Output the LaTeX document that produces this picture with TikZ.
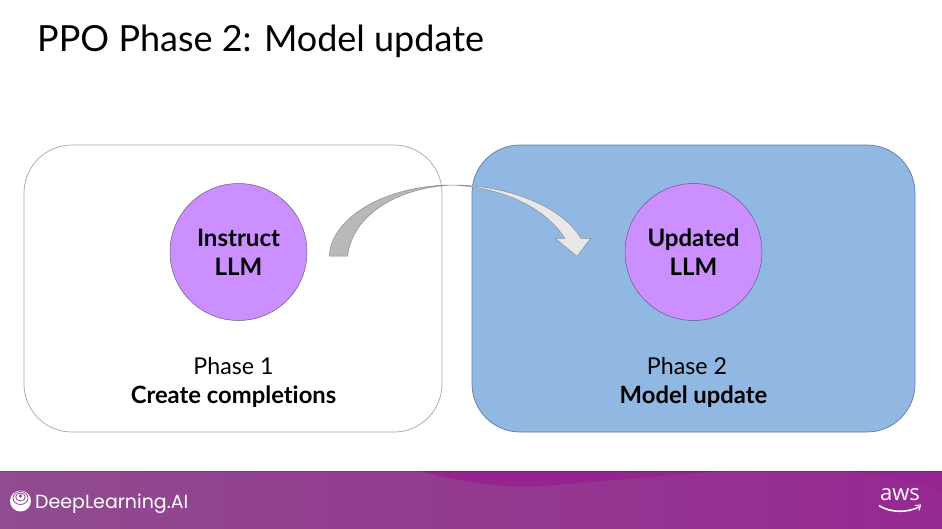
\documentclass[tikz,border=0pt]{standalone}
\usepackage{fontspec}
\setmainfont[Ligatures=NoCommon]{Lato}
\newfontfamily\logofont{Poppins}
\newfontfamily\awsfont{Open Sans}
\definecolor{bluebox}{RGB}{145,184,226}
\definecolor{blueedge}{RGB}{95,125,160}
\definecolor{circfill}{RGB}{204,143,255}
\definecolor{circedge}{RGB}{105,90,125}
\definecolor{bandL}{RGB}{144,76,142}
\definecolor{bandR}{RGB}{150,40,146}
\definecolor{wave}{RGB}{150,36,142}
\definecolor{arrowdark}{RGB}{185,185,185}
\definecolor{arrowlight}{RGB}{232,232,234}
\definecolor{arrowedge}{RGB}{140,140,145}
\tikzset{
  x=1pt,y=-1pt,
  panel/.style={rounded corners=48pt,line width=0.7pt},
  llm/.style={circle,draw=circedge,fill=circfill,line width=0.5pt,minimum size=137pt,inner sep=0pt,align=center,font=\fontsize{24}{29}\selectfont\bfseries,text=black},
  captiontext/.style={align=center,font=\fontsize{23.2}{29}\selectfont,text=black,anchor=center},
  arrowpart/.style={draw=arrowedge,line width=0.5pt,line join=miter},
}
\begin{document}
\begin{tikzpicture}
\useasboundingbox (0,0) rectangle (942,528);
\fill[white] (0,0) rectangle (942,528);
\node[anchor=base west,inner sep=0pt,font=\fontsize{36}{40}\selectfont,text=black] (title) at (37,51) {PPO Phase 2: Model update};
% panels
\draw[panel,draw=black!35,fill=white] (24,145) rectangle (442,432);
\draw[panel,draw=blueedge,fill=bluebox] (472,145) rectangle (915,432);
% circles
\node[llm] (instruct) at (238.5,252) {Instruct\\LLM};
\node[llm] (updated) at (693.5,252) {Updated\\LLM};
% captions
\node[captiontext] (p1) at (233.5,382) {Phase 1\\\textbf{\fontsize{23.8}{29}\selectfont Create completions}};
\node[captiontext] (p2) at (693.5,382) {\hspace*{-13pt}Phase 2\\\textbf{\fontsize{23.8}{29}\selectfont Model update}};
% curved block arrow
\draw[arrowpart,fill=arrowdark] (329.3,256) .. controls (331,218) and (385,185) .. (453,185)
   .. controls (400,187) and (352,214) .. (347.7,256) -- cycle;
\draw[arrowpart,fill=arrowlight] (453,185) .. controls (505,185) and (561,205) .. (581,238.3)
   -- (590.7,238.3) -- (577,256.3) -- (555.3,238.3) -- (565,238.3)
   .. controls (545,208) and (505,188) .. (453,185) -- cycle;
% footer band
\shade[left color=bandL,right color=bandR] (0,471) rectangle (942,528);
\fill[wave] (420,471) .. controls (460,482) and (505,488) .. (540,486)
   .. controls (590,483) and (660,475) .. (725,471) -- cycle;
\fill[wave,opacity=.6] (850,471) .. controls (880,474) and (915,482) .. (942,492) -- (942,471) -- cycle;
\fill[black,opacity=.12] (0,471) rectangle (942,472);
% DeepLearning.AI logo
\coordinate (logo) at (20.5,501);
\fill[white] (logo) circle (10.5);
\draw[bandL,line width=0.8pt] (20.5,498) ellipse (7.5 and 6.5);
\draw[bandL,line width=0.8pt] (20.5,497) ellipse (4.8 and 4);
\fill[bandL] (20.5,496) circle (1.8);
\node[anchor=base west,inner sep=0pt,text=white,font=\logofont\fontsize{19}{22}\selectfont] (dl) at (35,508) {DeepLearning.AI};
% aws logo
\node[anchor=base,inner sep=0pt,text=white,font=\awsfont\fontsize{22}{22}\selectfont] (aws) at (900,500.5) {aws};
\draw[white,line width=1.6pt] (879,505.5) .. controls (890,513) and (908,513) .. (920,506.5);
\draw[white,line width=1pt] (915,505.5) -- (920.5,505) -- (919,510.5);
\end{tikzpicture}
\end{document}
